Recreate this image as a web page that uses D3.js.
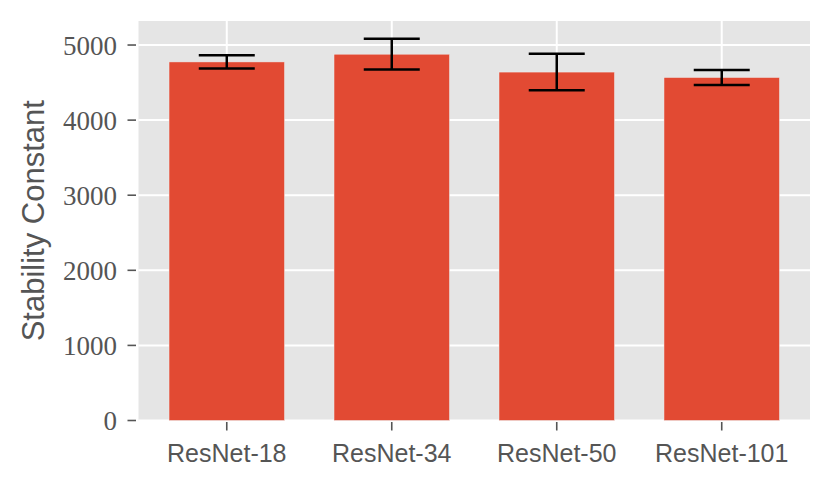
<!DOCTYPE html>
<html>
<head>
<meta charset="utf-8">
<script src="https://cdn.jsdelivr.net/npm/d3@7"></script>
<style>
  html, body { margin: 0; padding: 0; background: #ffffff; }
  svg { display: block; }
</style>
</head>
<body>
<svg id="chart" width="832" height="487"></svg>
<script>
const categories = ["ResNet-18", "ResNet-34", "ResNet-50", "ResNet-101"];
const values = [4775, 4878, 4640, 4568];
const errors = [88, 205, 243, 100];
const yTicks = [0, 1000, 2000, 3000, 4000, 5000];
const yLabel = "Stability Constant";

const svg = d3.select("#chart");
const L = 138.5, R = 810, T = 21, B = 420.5;

const x = d3.scaleLinear().domain([-0.535, categories.length - 1 + 0.535]).range([L, R]);
const y = d3.scaleLinear().domain([0, 5320]).range([B, T]);
const barW = 0.7;

// background
svg.append("rect").attr("x", L).attr("y", T).attr("width", R - L).attr("height", B - T).attr("fill", "#E5E5E5");

// grid
svg.append("g").selectAll("line").data(yTicks).join("line")
  .attr("x1", L).attr("x2", R).attr("y1", d => y(d)).attr("y2", d => y(d))
  .attr("stroke", "#ffffff").attr("stroke-width", 2);
svg.append("g").selectAll("line").data(categories).join("line")
  .attr("x1", (d, i) => x(i)).attr("x2", (d, i) => x(i)).attr("y1", T).attr("y2", B)
  .attr("stroke", "#ffffff").attr("stroke-width", 2);

// bars
svg.append("g").selectAll("rect").data(values).join("rect")
  .attr("x", (d, i) => x(i - barW / 2))
  .attr("width", (d, i) => x(i + barW / 2) - x(i - barW / 2))
  .attr("y", d => y(d))
  .attr("height", d => y(0) - y(d))
  .attr("fill", "#E24A33")
  .attr("stroke", "#EEEEEE").attr("stroke-width", 0.5);

// error bars
const capHalf = 28;
const eg = svg.append("g").attr("stroke", "#000").attr("stroke-width", 2.5);
values.forEach((v, i) => {
  const cx = x(i);
  eg.append("line").attr("x1", cx).attr("x2", cx).attr("y1", y(v - errors[i])).attr("y2", y(v + errors[i]));
  eg.append("line").attr("x1", cx - capHalf).attr("x2", cx + capHalf).attr("y1", y(v + errors[i])).attr("y2", y(v + errors[i]));
  eg.append("line").attr("x1", cx - capHalf).attr("x2", cx + capHalf).attr("y1", y(v - errors[i])).attr("y2", y(v - errors[i]));
});

// y axis ticks and labels
const yt = svg.append("g");
yt.selectAll("line").data(yTicks).join("line")
  .attr("x1", L - 11).attr("x2", L - 2.5).attr("y1", d => y(d)).attr("y2", d => y(d))
  .attr("stroke", "#555555").attr("stroke-width", 1.6);
yt.selectAll("text").data(yTicks).join("text")
  .attr("x", 117).attr("y", d => y(d) + 9.5)
  .attr("text-anchor", "end")
  .attr("font-family", "'Liberation Serif', 'DejaVu Serif', serif")
  .attr("font-size", 27)
  .attr("fill", "#555555")
  .text(d => d);

// x axis ticks and labels
const xt = svg.append("g");
xt.selectAll("line").data(categories).join("line")
  .attr("x1", (d, i) => x(i)).attr("x2", (d, i) => x(i)).attr("y1", B + 1.5).attr("y2", B + 10)
  .attr("stroke", "#555555").attr("stroke-width", 1.6);
xt.selectAll("text").data(categories).join("text")
  .attr("x", (d, i) => x(i)).attr("y", 462)
  .attr("text-anchor", "middle")
  .attr("font-family", "'Liberation Sans', Arial, sans-serif")
  .attr("font-size", 25)
  .attr("fill", "#555555")
  .text(d => d);

// y label
svg.append("text")
  .attr("transform", `translate(44, ${(T + B) / 2}) rotate(-90)`)
  .attr("text-anchor", "middle")
  .attr("font-family", "'Liberation Sans', Arial, sans-serif")
  .attr("font-size", 31)
  .attr("fill", "#555555")
  .text(yLabel);
</script>
</body>
</html>
